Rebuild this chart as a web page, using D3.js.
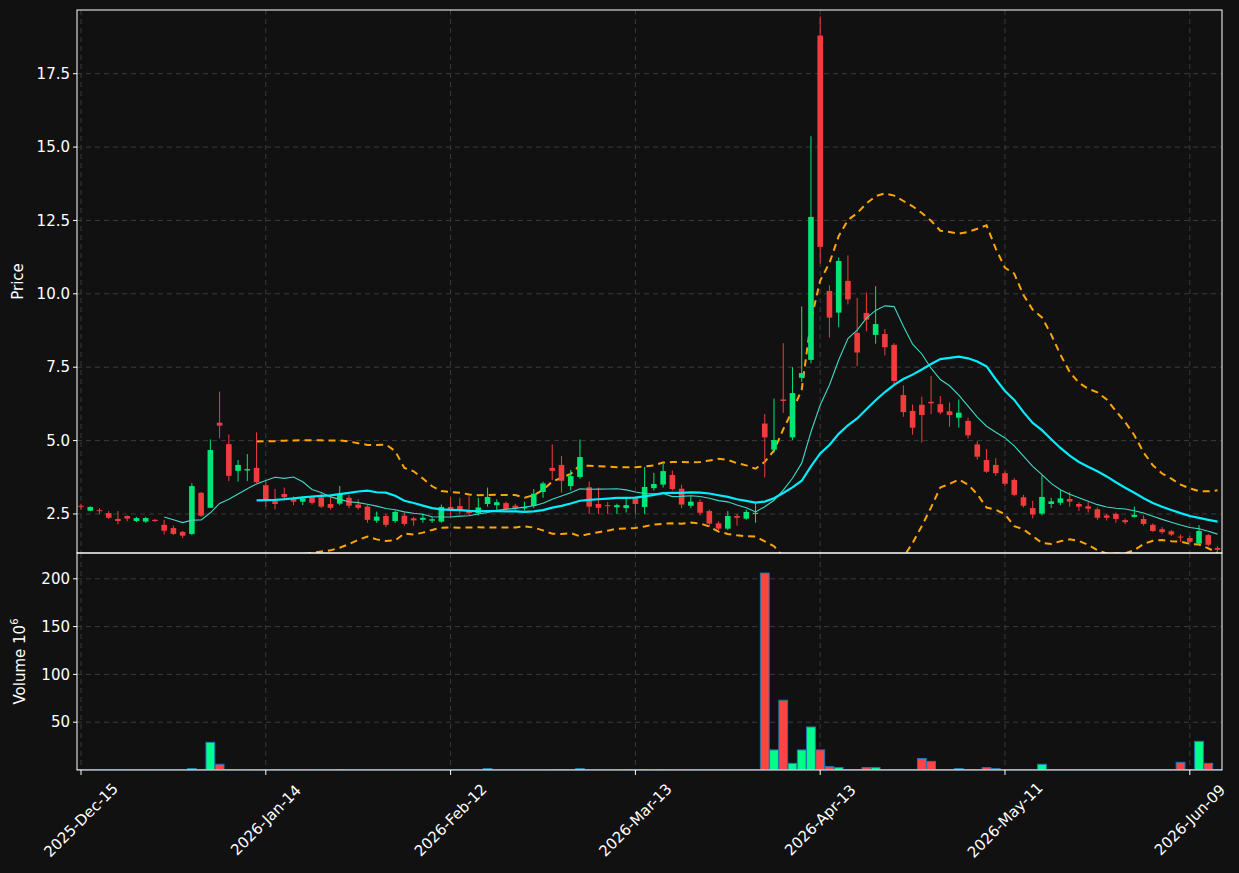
<!DOCTYPE html>
<html><head><meta charset="utf-8">
<script src="https://cdn.jsdelivr.net/npm/d3@7/dist/d3.min.js"></script>
<style>body{margin:0;background:#111111;}svg{display:block;font-family:"DejaVu Sans",sans-serif;}</style>
</head><body><svg id="c" width="1239" height="873"></svg>
<script>
const opens  = [2.78,2.61,2.63,2.53,2.33,2.43,2.26,2.24,2.30,2.13,2.02,1.89,1.82,3.22,2.71,5.61,4.88,3.97,3.98,4.07,
3.48,2.94,3.18,3.03,2.92,3.09,3.07,2.84,2.85,3.05,2.82,2.75,2.27,2.43,2.26,2.44,2.35,2.30,2.27,2.24,
2.74,2.77,2.61,2.53,2.84,2.80,2.87,2.78,2.69,2.77,3.25,4.07,4.17,3.45,3.76,3.41,2.84,2.80,2.73,2.70,
3.08,2.74,3.38,3.50,3.83,3.36,2.78,2.91,2.60,2.18,2.00,2.43,2.34,2.50,5.58,4.69,6.40,5.11,7.14,7.75,
18.8,10.1,9.36,10.44,8.67,9.35,8.60,8.63,8.26,6.55,6.01,6.22,6.32,6.24,6.00,5.78,5.67,4.87,4.34,4.17,
3.89,3.66,3.07,2.70,2.51,2.84,2.88,3.01,2.84,2.76,2.66,2.45,2.50,2.29,2.40,2.33,2.13,1.98,1.91,1.73,
1.68,1.49,1.78,1.34];
const closes = [2.75,2.74,2.60,2.37,2.26,2.34,2.36,2.36,2.26,1.93,1.82,1.76,3.45,2.44,4.68,5.51,3.80,4.17,4.03,3.58,
3.01,2.84,3.07,2.92,3.03,2.88,2.75,2.71,3.18,2.78,2.71,2.30,2.41,2.13,2.57,2.16,2.28,2.37,2.32,2.74,
2.66,2.61,2.53,2.72,3.08,2.90,2.66,2.69,2.74,3.19,3.54,3.97,3.63,3.79,4.44,2.75,2.71,2.77,2.80,2.80,
2.84,3.42,3.52,3.96,3.35,2.82,2.92,2.54,2.17,2.00,2.43,2.37,2.57,2.54,5.11,5.02,6.35,6.62,7.30,12.62,
11.6,9.19,11.12,9.81,8.00,9.12,8.97,8.18,7.03,5.97,5.44,5.87,6.27,5.96,5.87,5.95,5.18,4.45,3.94,3.89,
3.53,3.15,2.78,2.48,3.08,2.93,3.03,2.92,2.75,2.68,2.37,2.37,2.33,2.22,2.47,2.16,1.92,1.88,1.80,1.71,
1.55,1.92,1.45,1.28];
const highs  = [2.85,2.76,2.70,2.60,2.60,2.45,2.40,2.40,2.33,2.30,2.10,1.92,3.55,3.25,5.04,6.67,5.21,4.34,4.54,5.28,
3.60,3.35,3.40,3.10,3.10,3.12,3.20,3.10,3.45,3.15,3.00,2.80,2.58,2.50,2.62,2.55,2.40,2.50,2.40,2.82,
3.07,3.05,3.10,3.05,3.40,3.00,2.92,2.85,2.92,3.35,3.60,4.87,4.48,4.00,5.04,3.60,3.40,2.90,2.85,3.05,
3.10,4.10,3.90,4.20,3.98,3.50,3.10,3.00,2.65,2.25,2.60,2.50,2.65,2.90,5.90,6.43,8.32,7.50,9.57,15.37,
19.45,10.29,11.24,11.31,9.86,10.05,10.26,8.80,8.32,6.88,6.23,6.50,7.20,6.52,6.30,6.40,5.78,4.98,4.71,4.40,
3.95,3.72,3.15,2.95,3.82,3.05,3.32,3.25,2.90,2.90,2.72,2.50,2.55,2.35,2.75,2.45,2.18,2.05,1.95,1.80,
1.75,2.12,1.82,1.40];
const lows   = [2.65,2.60,2.50,2.33,2.15,2.25,2.22,2.20,2.22,1.80,1.78,1.68,1.78,2.40,2.70,5.08,3.62,3.60,3.62,3.55,
2.75,2.65,2.95,2.80,2.80,2.82,2.70,2.65,2.80,2.70,2.65,2.20,2.20,2.05,2.20,2.10,2.10,2.20,2.20,2.20,
2.40,2.50,2.45,2.45,2.75,2.60,2.60,2.60,2.62,2.70,3.05,3.66,3.23,3.30,3.70,2.50,2.50,2.50,2.50,2.55,
2.50,2.50,3.30,3.40,3.30,2.70,2.70,2.45,2.05,1.95,1.95,2.10,2.30,2.20,3.74,4.58,5.94,5.02,7.00,7.63,
11.03,8.51,8.86,9.64,7.53,8.72,8.30,7.90,6.86,5.81,5.20,4.93,5.90,5.90,5.47,5.44,5.07,4.35,3.90,3.80,
3.45,3.10,2.72,2.35,2.45,2.70,2.80,2.75,2.60,2.55,2.30,2.28,2.20,2.15,2.38,2.10,1.88,1.82,1.75,1.55,
1.50,1.45,1.40,1.22];
const volumes= [0.3,0.3,0.3,0.3,0.3,0.3,0.3,0.3,0.3,0.3,0.3,0.3,1.5,0.5,29,6,0.5,0.3,0.3,0.5,
0.3,0.5,0.3,0.3,0.3,0.3,0.3,0.3,0.5,0.3,0.3,0.3,0.3,0.3,0.3,0.3,0.3,0.3,0.3,0.3,
0.3,0.3,0.3,0.3,1.5,0.3,0.3,0.3,0.3,0.3,0.3,0.5,0.5,0.5,1.5,0.3,0.3,0.3,0.3,0.5,
0.3,0.5,0.3,0.5,0.3,0.3,0.3,0.3,0.3,0.3,0.3,0.3,0.3,0.3,206,21,73,7,21,45,
21,3.5,2.5,0.5,0.5,2.5,2.5,0.5,0.5,0.5,0.5,12,9,0.5,0.5,1.5,0.5,0.5,2.5,1.5,
0.5,0.5,0.5,0.5,6,0.5,0.5,0.5,0.5,0.5,0.5,0.5,0.5,0.5,0.5,0.5,0.5,0.5,0.5,8,
0.5,30,7,0.5];
const tickIdx = [0,20,40,60,80,100,120];
const tickLabels = ["2025-Dec-15","2026-Jan-14","2026-Feb-12","2026-Mar-13","2026-Apr-13","2026-May-11","2026-Jun-09"];
const priceTicks = [2.5,5.0,7.5,10.0,12.5,15.0,17.5];
const volTicks = [50,100,150,200];

const svg = d3.select("#c");
const L=77,R=1222,PT=10,PB=553,VB=770;
const x = d3.scaleLinear().domain([0,123]).range([81,81+123*9.24]);
const yp = d3.scaleLinear().domain([1.17,19.67]).range([PB,PT]);
const yv = d3.scaleLinear().domain([0,227]).range([VB,PB]);
const UP="#00e676", DN="#f03c3c";
const defs=svg.append("defs");
defs.append("clipPath").attr("id","cp").append("rect").attr("x",L).attr("y",PT).attr("width",R-L).attr("height",PB-PT);
defs.append("clipPath").attr("id","cv").append("rect").attr("x",L).attr("y",PB).attr("width",R-L).attr("height",VB-PB);

const g=svg.append("g");
function vgrid(y0,y1){tickIdx.forEach(t=>g.append("line").attr("x1",x(t)).attr("x2",x(t)).attr("y1",y0).attr("y2",y1).attr("stroke","#3a3a3a").attr("stroke-dasharray","5,4"));}
vgrid(PT,PB);vgrid(PB,VB);
priceTicks.forEach(t=>g.append("line").attr("x1",L).attr("x2",R).attr("y1",yp(t)).attr("y2",yp(t)).attr("stroke","#3a3a3a").attr("stroke-dasharray","5,4"));
volTicks.forEach(t=>g.append("line").attr("x1",L).attr("x2",R).attr("y1",yv(t)).attr("y2",yv(t)).attr("stroke","#3a3a3a").attr("stroke-dasharray","5,4"));

function sma(w){return closes.map((c,i)=>i<w-1?null:d3.mean(closes.slice(i-w+1,i+1)));}
function sd(w){return closes.map((c,i)=>i<w-1?null:d3.deviation(closes.slice(i-w+1,i+1))*Math.sqrt((w-1)/w));}
const m10=sma(10), m20=sma(20), s20=sd(20);
const line=d3.line().defined(d=>d[1]!=null).x(d=>x(d[0])).y(d=>yp(d[1]));
const pg=svg.append("g").attr("clip-path","url(#cp)");
const up=m20.map((m,i)=>[i,m==null?null:m+2*s20[i]]), lo=m20.map((m,i)=>[i,m==null?null:m-2*s20[i]]);
[up,lo].forEach(d=>pg.append("path").attr("d",line(d)).attr("fill","none").attr("stroke","#ffa500").attr("stroke-width",2).attr("stroke-dasharray","7,5"));

const bw=5.6;
closes.forEach((c,i)=>{
  const o=opens[i], col=c>=o?UP:DN;
  pg.append("line").attr("x1",x(i)).attr("x2",x(i)).attr("y1",yp(highs[i])).attr("y2",yp(lows[i])).attr("stroke",col).attr("stroke-width",1);
  const t=yp(Math.max(o,c)), b=yp(Math.min(o,c));
  pg.append("rect").attr("x",x(i)-bw/2).attr("y",t).attr("width",bw).attr("height",Math.max(1,b-t)).attr("fill",col);
});
pg.append("path").attr("d",line(m10.map((m,i)=>[i,m]))).attr("fill","none").attr("stroke","#40d8c8").attr("stroke-width",1.1);
pg.append("path").attr("d",line(m20.map((m,i)=>[i,m]))).attr("fill","none").attr("stroke","#00eeff").attr("stroke-width",2.2);

const vg=svg.append("g").attr("clip-path","url(#cv)");
volumes.forEach((v,i)=>{
  const col=closes[i]>=opens[i]?"#00ff88":"#ff4444";
  vg.append("rect").attr("x",x(i)-4.4).attr("y",yv(v)).attr("width",8.8).attr("height",yv(0)-yv(v)).attr("fill",col).attr("stroke","#1f77b4").attr("stroke-width",1);
});

svg.append("rect").attr("x",L).attr("y",PT).attr("width",R-L).attr("height",PB-PT).attr("fill","none").attr("stroke","#ffffff").attr("stroke-width",1);
svg.append("rect").attr("x",L).attr("y",PB).attr("width",R-L).attr("height",VB-PB).attr("fill","none").attr("stroke","#ffffff").attr("stroke-width",1);

const ax=svg.append("g").attr("fill","#ffffff").attr("font-size",15);
priceTicks.forEach(t=>{ax.append("line").attr("x1",L-4).attr("x2",L).attr("y1",yp(t)).attr("y2",yp(t)).attr("stroke","#fff");
  ax.append("text").attr("x",L-7).attr("y",yp(t)).attr("dy","0.35em").attr("text-anchor","end").text(t.toFixed(1));});
volTicks.forEach(t=>{ax.append("line").attr("x1",L-4).attr("x2",L).attr("y1",yv(t)).attr("y2",yv(t)).attr("stroke","#fff");
  ax.append("text").attr("x",L-7).attr("y",yv(t)).attr("dy","0.35em").attr("text-anchor","end").text(t);});
tickIdx.forEach((t,k)=>{ax.append("line").attr("x1",x(t)).attr("x2",x(t)).attr("y1",VB).attr("y2",VB+5).attr("stroke","#fff");
  ax.append("text").attr("transform",`translate(${x(t)},${VB+50}) rotate(-45)`).attr("text-anchor","middle").attr("dy","0.35em").text(tickLabels[k]);});
ax.append("text").attr("transform",`translate(23,${(PT+PB)/2}) rotate(-90)`).attr("text-anchor","middle").text("Price");
const vl=ax.append("text").attr("transform",`translate(25,${(PB+VB)/2}) rotate(-90)`).attr("text-anchor","middle");
vl.append("tspan").text("Volume  10");
vl.append("tspan").attr("font-size",10).attr("dy",-7).text("6");
</script></body></html>
